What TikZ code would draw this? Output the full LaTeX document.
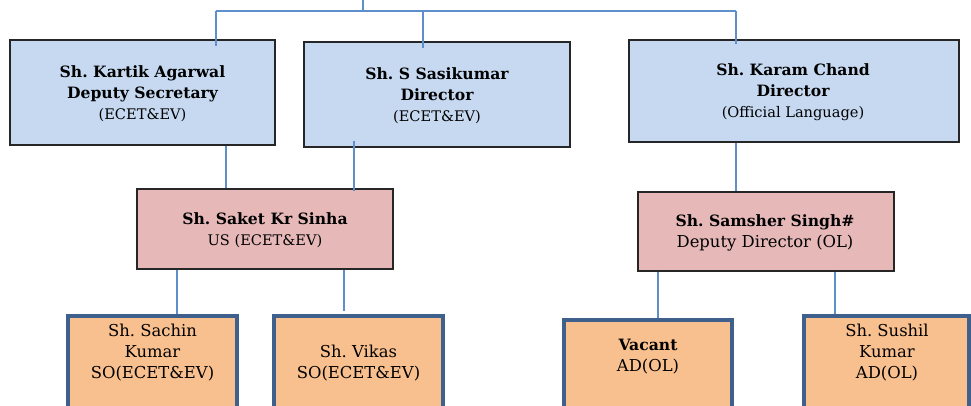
\documentclass[tikz,border=0pt]{standalone}
\usepackage{fontspec}
\setmainfont{DejaVu Serif}
\frenchspacing
\definecolor{topfill}{HTML}{C6D9F1}
\definecolor{midfill}{HTML}{E6B9B8}
\definecolor{lowfill}{HTML}{F9C08F}
\definecolor{lowedge}{HTML}{3F5F8C}
\definecolor{linkblue}{HTML}{5F8FCB}
\newcommand{\bigtx}{\fontsize{16.4}{21}\selectfont}
\newcommand{\smalltx}{\fontsize{14.6}{21}\selectfont}
\newcommand{\boldtx}[1]{{\fontsize{15.6}{21}\selectfont\bfseries #1}}
\tikzset{
  topbox/.style={draw=black!85, line width=1.5pt, fill=topfill, rectangle, inner sep=0pt},
  midbox/.style={draw=black!85, line width=1.5pt, fill=midfill, rectangle, inner sep=0pt},
  lowbox/.style={draw=lowedge, line width=3.5pt, fill=lowfill, rectangle, inner sep=0pt},
  label text/.style={align=center, inner sep=0pt, font=\smalltx},
  low text/.style={align=center, inner sep=0pt, font=\bigtx},
  link/.style={draw=linkblue, line width=1.4pt}
}
\begin{document}
\begin{tikzpicture}[x=1pt, y=-1pt]
\useasboundingbox (0,0) rectangle (971,405);
\clip (0,0) rectangle (971,405);
\fill[white] (0,0) rectangle (971,405);

% top level boxes
\node[topbox, minimum width=265pt, minimum height=105pt] (kartik) at (142.5,92.5) {};
\node[topbox, minimum width=266pt, minimum height=105pt] (sasi) at (437,94.5) {};
\node[topbox, minimum width=330pt, minimum height=102pt] (karam) at (794,91) {};
% middle level boxes
\node[midbox, minimum width=256pt, minimum height=80pt] (saket) at (265,229) {};
\node[midbox, minimum width=256pt, minimum height=79pt] (samsher) at (766,231.5) {};
% bottom level boxes (run past the lower edge)
\node[lowbox, minimum width=169pt, minimum height=110pt] (sachin) at (152.5,371) {};
\node[lowbox, minimum width=169pt, minimum height=110pt] (vikas) at (358.5,371) {};
\node[lowbox, minimum width=168pt, minimum height=106pt] (vacant) at (648,373) {};
\node[lowbox, minimum width=165pt, minimum height=110pt] (sushil) at (886.5,371) {};

% texts
\node[label text] (kartik-t) at (142.5,94) {\boldtx{Sh. Kartik Agarwal}\\\boldtx{Deputy Secretary}\\(ECET\&EV)};
\node[label text] (sasi-t) at (437,96) {\boldtx{Sh. S Sasikumar}\\\boldtx{Director}\\(ECET\&EV)};
\node[label text] (karam-t) at (793,92.5) {\boldtx{Sh. Karam Chand}\\\boldtx{Director}\\(Official Language)};
\node[label text] (saket-t) at (265,230) {\boldtx{Sh. Saket Kr Sinha}\\US (ECET\&EV)};
\node[low text] (samsher-t) at (765,232.5) {\boldtx{Sh. Samsher Singh\#}\\Deputy Director (OL)};
\node[low text] (sachin-t) at (152.5,353) {Sh. Sachin\\Kumar\\SO(ECET\&EV)};
\node[low text] (vikas-t) at (358.5,363) {Sh. Vikas\\SO(ECET\&EV)};
\node[low text] (vacant-t) at (648,356.5) {\boldtx{Vacant}\\AD(OL)};
\node[low text] (sushil-t) at (887,353) {Sh. Sushil\\Kumar\\AD(OL)};

% connectors
\coordinate (top) at (363,0);
\coordinate (barL) at (216,11);
\coordinate (barR) at (736,11);
\draw[link] (top) -- (top |- barL);
\draw[link] (barL) -- (barR);
\draw[link] (barL) -- ([yshift=-7pt]barL |- kartik.north);
\draw[link] (barL -| 423,0) -- ([yshift=-7pt]{423,0} |- sasi.north);
\draw[link] (barR) -- ([yshift=-5pt]barR |- karam.north);
\draw[link] (226,0 |- kartik.south) -- (226,0 |- saket.north);
\draw[link] ([yshift=7pt]{354,0} |- sasi.south) -- ([yshift=-3pt]{354,0} |- saket.north);
\draw[link] (736,0 |- karam.south) -- (736,0 |- samsher.north);
\draw[link] (177,0 |- saket.south) -- (177,0 |- sachin.north);
\draw[link] (344,0 |- saket.south) -- ([yshift=3pt]{344,0} |- vikas.north);
\draw[link] (658,0 |- samsher.south) -- (658,0 |- vacant.north);
\draw[link] (835,0 |- samsher.south) -- (835,0 |- sushil.north);
\end{tikzpicture}
\end{document}
